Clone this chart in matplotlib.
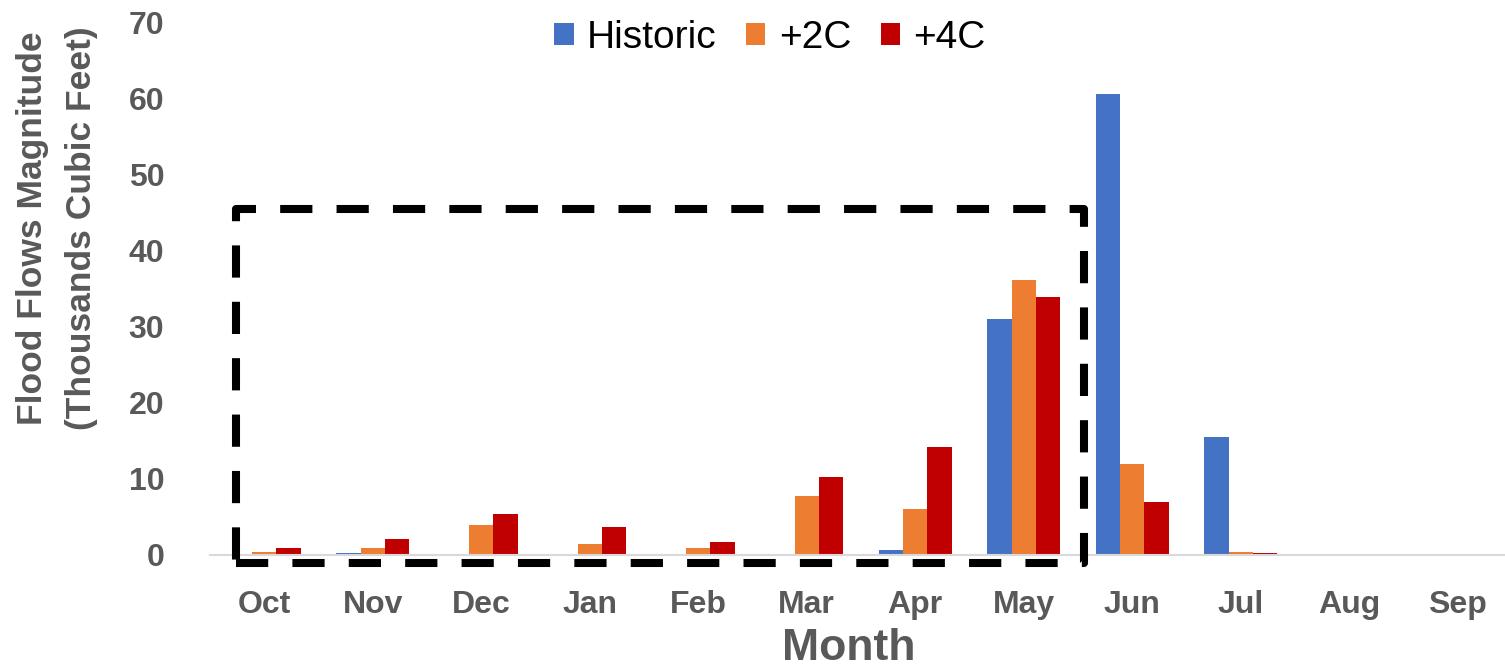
import matplotlib

matplotlib.use("Agg")
import matplotlib.pyplot as plt  # noqa: E402
from matplotlib.patches import Rectangle  # noqa: E402
import numpy as np  # noqa: E402

plt.rcParams["font.family"] = ["Liberation Sans", "DejaVu Sans"]

MONTHS = ["Oct", "Nov", "Dec", "Jan", "Feb", "Mar", "Apr", "May", "Jun", "Jul", "Aug", "Sep"]
HISTORIC = [0.0, 0.3, 0.0, 0.0, 0.0, 0.0, 0.7, 31.0, 60.6, 15.5, 0.0, 0.0]
PLUS_2C = [0.45, 0.9, 4.0, 1.5, 0.9, 7.7, 6.0, 36.1, 12.0, 0.4, 0.0, 0.0]
PLUS_4C = [0.9, 2.1, 5.4, 3.7, 1.7, 10.3, 14.2, 33.9, 7.0, 0.2, 0.0, 0.0]
SERIES = [("Historic", HISTORIC, "#4472C4"), ("+2C", PLUS_2C, "#ED7D31"), ("+4C", PLUS_4C, "#C00000")]

GRAY = "#595959"

fig = plt.figure(figsize=(15.05, 6.69), dpi=100)
ax = fig.add_axes([210 / 1505, 1 - 555 / 669, 1295 / 1505, 533 / 669])

x = np.arange(len(MONTHS))
width = 0.225
for i, (label, values, color) in enumerate(SERIES):
    ax.bar(x + (i - 1) * width, values, width, color=color, label=label, linewidth=0)

ax.set_xlim(-0.5, -0.5 + 1295 / 108.5)
ax.set_ylim(0, 70)
ax.set_yticks(range(0, 71, 10))
ax.set_xticks(x)
ax.set_xticklabels(MONTHS)
ax.tick_params(length=0, labelsize=23, labelcolor=GRAY)
for lab in ax.get_xticklabels() + ax.get_yticklabels():
    lab.set_fontweight("heavy")
ax.tick_params(axis="y", pad=33)
ax.tick_params(axis="x", pad=25)
for side in ("top", "right", "left"):
    ax.spines[side].set_visible(False)
ax.spines["bottom"].set_color("#D9D9D9")
ax.spines["bottom"].set_linewidth(1.5)

# dashed box around Oct-May
box = Rectangle((-0.26, -1.05), 7.815, 46.45, fill=False, edgecolor="black",
                linewidth=5.8, linestyle=(0, (4.0, 3.0)), clip_on=False, zorder=5,
                joinstyle="round")
ax.add_patch(box)

fig.text(57 / 1505, 1 - 228 / 669, "Flood Flows Magnitude\n(Thousands Cubic Feet)",
         rotation=90, ha="center", va="center", multialignment="center",
         fontsize=25.5, fontweight="bold", color=GRAY, linespacing=1.6)
fig.text(849 / 1505, 1 - 648 / 669, "Month", ha="center", va="center",
         fontsize=32, fontweight="bold", color=GRAY)

ax.legend(loc="center", bbox_to_anchor=(770 / 1505, 1 - 38 / 669), bbox_transform=fig.transFigure,
          ncol=3, frameon=False, fontsize=28, handlelength=0.5, handleheight=0.5,
          handletextpad=0.35, columnspacing=0.75)

fig.savefig("out.png", dpi=100)
